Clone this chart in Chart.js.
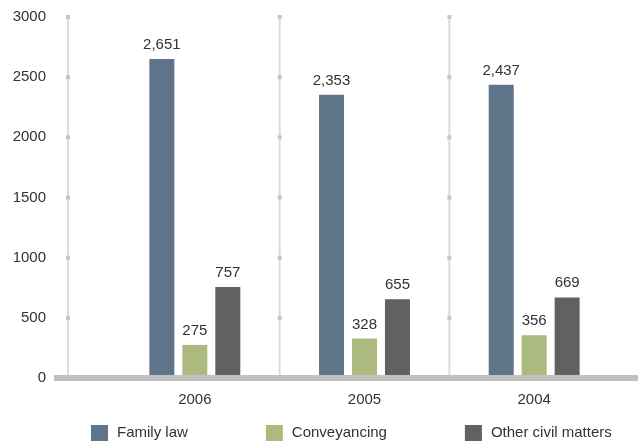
<!DOCTYPE html>
<html lang="en">
<head>
  <meta charset="UTF-8" />
  <title>Civil matters by year</title>
  <script src="https://cdn.jsdelivr.net/npm/chart.js"></script>
  <style>
    html, body {
      margin: 0;
      padding: 0;
      background: #fff;
    }
    canvas { display: block; }
  </style>
</head>
<body>
  <canvas id="barChart" width="638" height="443"></canvas>

  <script>
    const years = ['2006', '2005', '2004'];
    const familyLaw = [2651, 2353, 2437];
    const conveyancing = [275, 328, 356];
    const otherCivil = [757, 655, 669];
    const yTicks = [0, 500, 1000, 1500, 2000, 2500, 3000];

    const FONT = 'Helvetica, Arial, "Liberation Sans", sans-serif';
    const TEXT = '#333';

    // grey guide lines with little square markers at each tick, plus the thick base bar
    const guides = {
      id: 'guides',
      beforeDatasetsDraw(chart) {
        const { ctx, chartArea, scales: { x, y } } = chart;
        const lines = [chartArea.left - 42];
        for (let i = 1; i < years.length; i++) {
          lines.push((x.getPixelForValue(i - 1) + x.getPixelForValue(i)) / 2);
        }
        ctx.save();
        lines.forEach(lx => {
          ctx.fillStyle = '#dcdcdc';
          ctx.fillRect(lx - 1, y.getPixelForValue(3000) - 2, 2, y.getPixelForValue(0) - y.getPixelForValue(3000));
          ctx.fillStyle = '#c6c6c6';
          yTicks.slice(1).forEach(v => {
            ctx.fillRect(lx - 2, y.getPixelForValue(v) - 2, 4, 4);
          });
        });
        ctx.restore();
      },
      afterDatasetsDraw(chart) {
        const { ctx, chartArea, width, scales: { y } } = chart;
        const y0 = y.getPixelForValue(0);
        ctx.save();
        ctx.fillStyle = '#c0c0c0';
        ctx.fillRect(chartArea.left - 56, y0 - 3, width - (chartArea.left - 56), 6);
        ctx.restore();
      }
    };

    // value labels above every bar
    const valueLabels = {
      id: 'valueLabels',
      afterDatasetsDraw(chart) {
        const { ctx } = chart;
        ctx.save();
        ctx.font = '15px ' + FONT;
        ctx.fillStyle = TEXT;
        ctx.textAlign = 'center';
        ctx.textBaseline = 'alphabetic';
        chart.data.datasets.forEach((ds, i) => {
          chart.getDatasetMeta(i).data.forEach((bar, j) => {
            ctx.fillText(ds.data[j].toLocaleString('en-US'), bar.x, bar.y - 10);
          });
        });
        ctx.restore();
      }
    };

    // legend along the bottom, wide gaps between entries
    const bottomLegend = {
      id: 'bottomLegend',
      afterDraw(chart) {
        const { ctx } = chart;
        let lx = 91;
        const top = 425;
        ctx.save();
        ctx.font = '15px ' + FONT;
        ctx.textBaseline = 'middle';
        ctx.textAlign = 'left';
        chart.data.datasets.forEach(ds => {
          ctx.fillStyle = ds.backgroundColor;
          ctx.fillRect(lx, top, 17, 16);
          ctx.fillStyle = TEXT;
          ctx.fillText(ds.label, lx + 26, top + 8);
          lx += 26 + ctx.measureText(ds.label).width + 78;
        });
        ctx.restore();
      }
    };

    const ctx = document.getElementById('barChart').getContext('2d');
    new Chart(ctx, {
      type: 'bar',
      data: {
        labels: years,
        datasets: [
          { label: 'Family law', data: familyLaw, backgroundColor: '#5e7489' },
          { label: 'Conveyancing', data: conveyancing, backgroundColor: '#acb97f' },
          { label: 'Other civil matters', data: otherCivil, backgroundColor: '#616161' }
        ]
      },
      options: {
        responsive: false,
        animation: false,
        categoryPercentage: 0.583,
        barPercentage: 0.758,
        layout: {
          padding: { top: 17, right: 19, bottom: 21, left: 0 }
        },
        scales: {
          x: {
            grid: { display: false, drawTicks: false },
            border: { display: false },
            ticks: {
              color: TEXT,
              padding: 13,
              font: { family: FONT, size: 15 }
            }
          },
          y: {
            min: 0,
            max: 3000,
            afterBuildTicks(scale) {
              scale.ticks = yTicks.map(v => ({ value: v }));
            },
            afterFit(scale) {
              // wide gutter for the labels, but no extra top/bottom padding from it
              scale.width = 110;
              scale.paddingTop = 0;
              scale.paddingBottom = 0;
            },
            grid: { display: false, drawTicks: false },
            border: { display: false },
            ticks: {
              color: TEXT,
              padding: 64,
              font: { family: FONT, size: 15 },
              callback: v => String(v)
            }
          }
        },
        plugins: {
          legend: { display: false },
          tooltip: { enabled: false }
        }
      },
      plugins: [guides, valueLabels, bottomLegend]
    });
  </script>
</body>
</html>
